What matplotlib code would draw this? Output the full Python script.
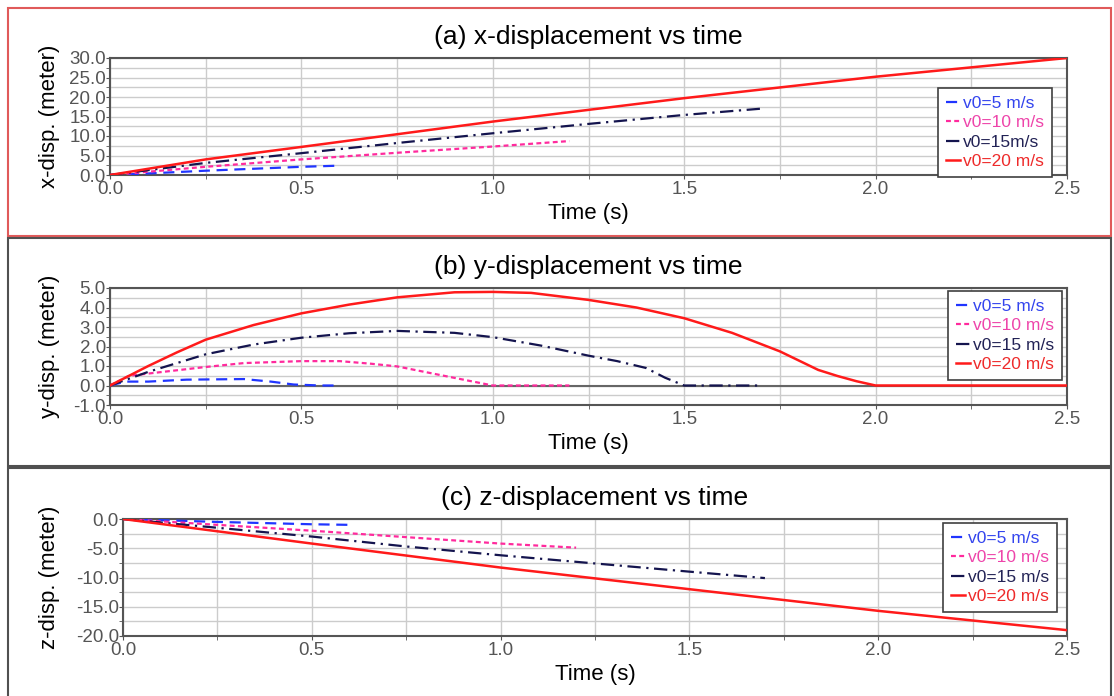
import matplotlib.pyplot as plt
from matplotlib.patches import Rectangle
from matplotlib.ticker import MultipleLocator, FormatStrFormatter

plt.rcParams['font.family'] = ['Liberation Sans', 'DejaVu Sans']

# ---- data ----
labels_a = ['v0=5 m/s', 'v0=10 m/s', 'v0=15m/s', 'v0=20 m/s']
labels_bc = ['v0=5 m/s', 'v0=10 m/s', 'v0=15 m/s', 'v0=20 m/s']

# (a) x-displacement
tx5 = [0, 0.1, 0.25, 0.4, 0.5, 0.6]
x5 = [0, 0.4, 1.1, 1.7, 2.1, 2.4]
tx10 = [0, 0.25, 0.5, 0.75, 1.0, 1.2]
x10 = [0, 2.1, 4.0, 5.7, 7.3, 8.7]
tx15 = [0, 0.25, 0.5, 0.75, 1.0, 1.25, 1.5, 1.7]
x15 = [0, 3.1, 5.6, 8.2, 10.7, 13.1, 15.4, 17.0]
tx20 = [0, 0.25, 0.5, 1.0, 1.5, 2.0, 2.5]
x20 = [0, 4.0, 7.2, 13.7, 19.7, 25.2, 30.0]

# (b) y-displacement
ty5 = [0, 0.04, 0.1, 0.2, 0.35, 0.42, 0.48, 0.55, 0.6]
y5 = [0, 0.2, 0.2, 0.3, 0.33, 0.2, 0.05, 0, 0]
ty10 = [0, 0.05, 0.25, 0.35, 0.5, 0.6, 0.68, 0.75, 0.9, 1.0, 1.2]
y10 = [0, 0.5, 0.95, 1.15, 1.25, 1.25, 1.12, 0.98, 0.39, 0, 0]
ty15 = [0, 0.1, 0.25, 0.375, 0.5, 0.625, 0.75, 0.9, 1.0, 1.125, 1.25, 1.325, 1.4, 1.45, 1.5, 1.7]
y15 = [0, 0.7, 1.6, 2.1, 2.45, 2.68, 2.8, 2.7, 2.48, 2.05, 1.53, 1.25, 0.9, 0.4, 0, 0]
ty20 = [0, 0.1, 0.175, 0.25, 0.375, 0.5, 0.625, 0.75, 0.9, 1.0, 1.1, 1.25, 1.375, 1.5,
        1.625, 1.75, 1.85, 1.9, 1.95, 2.0, 2.5]
y20 = [0, 1.0, 1.7, 2.35, 3.1, 3.7, 4.15, 4.52, 4.78, 4.8, 4.75, 4.39, 4.0, 3.45,
       2.7, 1.75, 0.8, 0.49, 0.22, 0, 0]

# (c) z-displacement
tz5 = [0, 0.25, 0.5, 0.6]
z5 = [0, -0.5, -0.9, -1.0]
tz10 = [0, 0.25, 0.5, 0.75, 1.0, 1.2]
z10 = [0, -1.0, -2.0, -3.1, -4.2, -4.9]
tz15 = [0, 0.25, 0.5, 0.75, 1.0, 1.25, 1.5, 1.7]
z15 = [0, -1.5, -3.0, -4.7, -6.2, -7.6, -9.0, -10.1]
tz20 = [0, 0.25, 0.5, 1.0, 1.5, 2.0, 2.5]
z20 = [0, -2.1, -4.2, -8.3, -12.0, -15.7, -19.0]

# ---- styles ----
colors = ['#2035ff', '#ff2a9d', '#14144e', '#ff1a1a']
text_colors = ['#3344ee', '#ee44aa', '#222255', '#ee2a2a']
dashes = [(5, 3), (2.2, 1.5), (6, 2.5, 1, 2.5), None]
widths = [1.6, 1.6, 1.6, 1.8]

W, H = 1114, 696
fig = plt.figure(figsize=(W / 100, H / 100), dpi=100)


def px_axes(left, top, right, bottom):
    return fig.add_axes([left / W, 1 - bottom / H, (right - left) / W, (bottom - top) / H])


def frame(top, bottom, color):
    fig.add_artist(Rectangle((8 / W, 1 - bottom / H), (1111 - 8) / W, (bottom - top) / H,
                             transform=fig.transFigure, fill=False, ec=color, lw=1.5))


frame(8, 236, '#e05a5a')
frame(238, 466, '#505050')
frame(468, 700, '#505050')

panels = [
    dict(box=(110, 58, 1067, 175), leg=(938, 88), title='(a) x-displacement vs time',
         ylabel='x-disp. (meter)', ylim=(0, 30), major=5, minor=2.5, labels=labels_a,
         series=[(tx5, x5), (tx10, x10), (tx15, x15), (tx20, x20)]),
    dict(box=(110, 288, 1067, 405), leg=(948, 291), title='(b) y-displacement vs time',
         ylabel='y-disp. (meter)', ylim=(-1, 5), major=1, minor=0.5, labels=labels_bc,
         series=[(ty5, y5), (ty10, y10), (ty15, y15), (ty20, y20)]),
    dict(box=(123, 519, 1067, 636), leg=(943, 523), title='(c) z-displacement vs time',
         ylabel='z-disp. (meter)', ylim=(-20, 0), major=5, minor=2.5, labels=labels_bc,
         series=[(tz5, z5), (tz10, z10), (tz15, z15), (tz20, z20)]),
]

for p in panels:
    left, top, right, bottom = p['box']
    ax = px_axes(left, top, right, bottom)
    lines = []
    for (t, v), c, d, lw in zip(p['series'], colors, dashes, widths):
        ln, = ax.plot(t, v, color=c, lw=lw, zorder=3)
        if d is not None:
            ln.set_dashes(d)
        lines.append(ln)
    if p['ylim'][0] < 0 < p['ylim'][1]:
        ax.axhline(0, color='#666666', lw=1.5, zorder=2)
    ax.set_xlim(0, 2.5)
    ax.set_ylim(*p['ylim'])
    ax.xaxis.set_major_locator(MultipleLocator(0.5))
    ax.xaxis.set_minor_locator(MultipleLocator(0.25))
    ax.yaxis.set_major_locator(MultipleLocator(p['major']))
    ax.yaxis.set_minor_locator(MultipleLocator(p['minor']))
    ax.xaxis.set_major_formatter(FormatStrFormatter('%.1f'))
    ax.yaxis.set_major_formatter(FormatStrFormatter('%.1f'))
    ax.grid(True, which='both', color='#cccccc', lw=1, zorder=0)
    ax.set_axisbelow(True)
    for s in ax.spines.values():
        s.set_color('#555555')
        s.set_linewidth(1.5)
    ax.tick_params(axis='both', which='both', labelsize=13.5, labelcolor='#555555',
                   color='#555555', length=3, pad=0)
    ax.tick_params(axis='x', which='major', pad=1)
    ax.set_title(p['title'], fontsize=19, pad=10)
    ax.set_xlabel('Time (s)', fontsize=16, labelpad=4)
    ax.set_ylabel(p['ylabel'], fontsize=16)
    ax.yaxis.set_label_coords((60 - left) / (right - left), 0.5)
    lx, ly = p['leg']
    leg = ax.legend(lines, p['labels'], loc='upper left',
                    bbox_to_anchor=(lx / W, 1 - ly / H), bbox_transform=fig.transFigure,
                    borderaxespad=0, fontsize=12.5, handlelength=0.8, handletextpad=0.2,
                    labelspacing=0.25, borderpad=0.45, fancybox=False, framealpha=1)
    leg.get_frame().set_edgecolor('#404040')
    leg.get_frame().set_linewidth(1.2)
    leg.set_zorder(5)
    for txt, c in zip(leg.get_texts(), text_colors):
        txt.set_color(c)

fig.savefig('out.png', dpi=100)
